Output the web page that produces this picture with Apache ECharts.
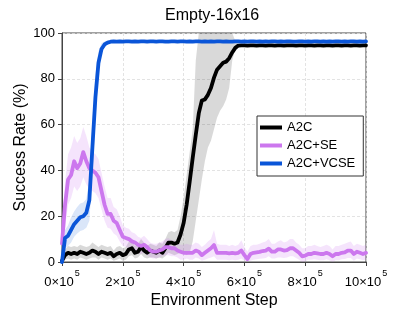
<!DOCTYPE html>
<html>
<head>
<meta charset="utf-8">
<script src="https://cdn.jsdelivr.net/npm/echarts@6/dist/echarts.min.js"></script>
<style>
html,body{margin:0;padding:0;background:#fff;}
#c{width:399px;height:319px;}
</style>
</head>
<body>
<div id="c"></div>
<script>
// Environment steps in units of 1e4
const steps = [0,1,2,3,4,5,6,7,8,9,10,11,12,13,14,15,16,17,18,19,20,21,22,23,24,25,26,27,28,29,30,31,32,33,34,35,36,37,38,39,40,41,42,43,44,45,46,47,48,49,50,51,52,53,54,55,56,57,58,59,60,61,62,63,64,65,66,67,68,69,70,71,72,73,74,75,76,77,78,79,80,81,82,83,84,85,86,87,88,89,90,91,92,93,94,95,96,97,98,99,100];
const xTicks = [0,2,4,6,8,10];
const yTicks = [0,20,40,60,80,100];
const seriesNames = ['A2C','A2C+SE','A2C+VCSE'];

const a2c = [0.5,3,4,3.5,4,3.5,4.5,4,3.5,4,
 5,4.5,3.5,4.5,4,3.5,4,2.5,3.5,4,
 3,3.5,5.5,6,4,4.5,6.5,5,4,5,
 4.5,4,5,4,6,8.5,8.5,8,8.5,12,
 17,25,35,45.5,55.5,65,70.5,71,73,76,
 80.5,84,85.5,87,87.5,89,91.5,93.5,94.5,94.6,
 94.6,94.5,94.6,94.6,94.5,94.6,94.6,94.5,94.6,94.6,
 94.5,94.6,94.6,94.5,94.6,94.6,94.6,94.5,94.6,94.6,
 94.5,94.6,94.6,94.5,94.6,94.6,94.5,94.6,94.6,94.5,
 94.6,94.6,94.5,94.6,94.6,94.5,94.6,94.6,94.5,94.6,
 94.6];
const a2cLow = [0,1,1.5,1,1.5,1,2,1.5,1,1.5,
 2,2,1,2,1.5,1,1.5,0.5,1,1.5,
 0.5,1,2.5,3,1.5,2,3.5,2,1.5,2,
 2,1.5,2,1.5,2.5,4,3.5,3,3.5,4,
 4,3,4,9,18,27,36,44,50,53,
 58,63,66,68,71,76,88,93,94,94.1,
 94.1,94,94.1,94.1,94,94.1,94.1,94,94.1,94.1,
 94,94.1,94.1,94,94.1,94.1,94.1,94,94.1,94.1,
 94,94.1,94.1,94,94.1,94.1,94,94.1,94.1,94,
 94.1,94.1,94,94.1,94.1,94,94.1,94.1,94,94.1,
 94.1];
const a2cHigh = [1.5,5.5,7,6.5,7,6.5,7.5,7,6.5,7,
 8.5,7.5,6.5,7.5,7,6.5,7,5,6.5,7,
 6,6.5,9,9.5,7,8,10,8.5,7,8,
 7.5,7,8.5,8,10,13,13.5,13,14,20,
 28,38,48,58,88,110,110,110,110,110,
 110,110,110,110,108,105,101,96.5,95.2,95.1,
 95.1,95,95.1,95.1,95,95.1,95.1,95,95.1,95.1,
 95,95.1,95.1,95,95.1,95.1,95.1,95,95.1,95.1,
 95,95.1,95.1,95,95.1,95.1,95,95.1,95.1,95,
 95.1,95.1,95,95.1,95.1,95,95.1,95.1,95,95.1,
 95.1];

const se = [8,25,36,38,44,41,43,48,44,41,
 40,39,37,31,25,21,21,18,17,14,
 11,10.5,10,9,8.5,7.5,7,7.5,6.5,5,
 4.5,4.5,5,5.5,6.5,6.5,6,6,5,4.5,
 4,4,4,4,5,4.5,3,4,5,6,
 7.4,4,4,4,4,3.8,4,3.8,4,5,
 3,1.3,3.5,4,4.2,4.4,4.8,5,5.8,4.5,
 4.5,5.5,5.5,5,5.2,6,6,5,4,2.5,
 2.8,3.5,3.5,4,3.8,3.5,3.5,4,3.5,2.5,
 3.5,3.5,4,4.2,5,5,3.5,4.5,4,3.5,
 4];
const seLow = [3,15,25,28,33,31,33,37,34,32,
 31,30,28,23,18,15,14.5,12.5,11.5,9,
 7,6.5,6,5,5,4,3.5,4,3,2,
 1.5,1.5,2,2.5,3,3,2.5,2.5,2,1,
 1,1.5,1,1,2,1.5,0.5,1,1.5,2,
 2.5,1,1,1,1,0.8,1,0.8,1,1.5,
 0.5,0,0.5,1,1.2,1.4,1.5,1.8,2.5,1.5,
 1.5,2,2,1.8,2,2.5,2.5,1.8,1,0,
 0.3,1,1,1.2,1,0.8,0.8,1.2,0.8,0,
 0.8,0.8,1.2,1.3,1.8,1.8,0.5,1.5,1.2,0.8,
 1];
const seHigh = [14,35,47,50,55,52,54,59,55,50,
 48,47,45,39,33,28,28,24,23,20,
 16,15,14.5,13,12.5,11,10.5,11.5,10,8.5,
 8,8,8.5,9,10,10.5,9.5,9.5,8.5,7.5,
 7.5,8,7.5,7.5,8.5,8,6.5,7.5,9,10,
 14,8,7.5,7.5,7.5,7,7.5,7,7.5,9.5,
 6.5,4.5,7,7.5,7.5,8,8.5,9,10,8,
 8,9,9.5,8.5,9,10,10,8.5,7.5,6,
 6,7,7,7.5,7,6.5,7,7.5,7,5.5,
 7,7,7.5,8,8.5,9,7,8,7.5,7,
 7.5];

const vcse = [0,10.5,11.5,14,16.5,18,19.5,20,21.5,27,
 50,72,87,93,95,95.8,96.2,96.3,96.2,96.3,
 96.2,96.3,96.3,96.2,96.3,96.2,96.3,96.3,96.2,96.3,
 96.3,96.2,96.3,96.3,96.2,96.2,96.3,96.3,96.2,96.3,
 96.3,96.2,96.3,96.2,96.3,96.3,96.2,96.3,96.2,96.3,
 96.2,96.3,96.3,96.2,96.3,96.2,96.2,96.3,96.3,96.2,
 96.3,96.2,96.3,96.3,96.2,96.3,96.2,96.3,96.2,96.3,
 96.3,96.2,96.3,96.2,96.3,96.3,96.2,96.2,96.3,96.3,
 96.2,96.3,96.2,96.3,96.3,96.2,96.3,96.2,96.3,96.2,
 96.3,96.3,96.2,96.3,96.2,96.3,96.3,96.2,96.3,96.2,
 96.3];
const vcseLow = [0,6,7,8.5,11,12.5,13.5,14,15,18,
 38,62,82,91,94,95.2,95.7,95.8,95.7,95.8,
 95.7,95.8,95.8,95.7,95.8,95.7,95.8,95.8,95.7,95.8,
 95.8,95.7,95.8,95.8,95.7,95.7,95.8,95.8,95.7,95.8,
 95.8,95.7,95.8,95.7,95.8,95.8,95.7,95.8,95.7,95.8,
 95.7,95.8,95.8,95.7,95.8,95.7,95.7,95.8,95.8,95.7,
 95.8,95.7,95.8,95.8,95.7,95.8,95.7,95.8,95.7,95.8,
 95.8,95.7,95.8,95.7,95.8,95.8,95.7,95.7,95.8,95.8,
 95.7,95.8,95.7,95.8,95.8,95.7,95.8,95.7,95.8,95.7,
 95.8,95.8,95.7,95.8,95.7,95.8,95.8,95.7,95.8,95.7,
 95.8];
const vcseHigh = [0,14,16,19.5,22,24,25.5,26,27.5,36,
 62,82,92,95.5,96.3,96.6,96.7,96.8,96.7,96.8,
 96.7,96.8,96.8,96.7,96.8,96.7,96.8,96.8,96.7,96.8,
 96.8,96.7,96.8,96.8,96.7,96.7,96.8,96.8,96.7,96.8,
 96.8,96.7,96.8,96.7,96.8,96.8,96.7,96.8,96.7,96.8,
 96.7,96.8,96.8,96.7,96.8,96.7,96.7,96.8,96.8,96.7,
 96.8,96.7,96.8,96.8,96.7,96.8,96.7,96.8,96.7,96.8,
 96.8,96.7,96.8,96.7,96.8,96.8,96.7,96.7,96.8,96.8,
 96.7,96.8,96.7,96.8,96.8,96.7,96.8,96.7,96.8,96.7,
 96.8,96.8,96.7,96.8,96.7,96.8,96.8,96.7,96.8,96.7,
 96.8];

const UNIT = 1e4;
const colors = ['#000000', '#cc77ee', '#0a55d8'];
const bandColors = ['rgba(0,0,0,0.15)', 'rgba(204,119,238,0.2)', 'rgba(10,85,216,0.15)'];
const Y_MIN = yTicks[0], Y_MAX = yTicks[yTicks.length-1];

function pairs(arr){ return steps.map((s,i)=>[s*UNIT, arr[i]]); }

function band(lo, hi, color){
  return {
    type:'custom', silent:true, z:1,
    data:[[0, 0]],
    encode:{x:0, y:1},
    renderItem:function(params, api){
      const clampV = v => Math.max(Y_MIN, Math.min(Y_MAX, v));
      const top = steps.map((s,i)=>api.coord([s*UNIT, clampV(hi[i])]));
      const bot = steps.map((s,i)=>api.coord([s*UNIT, clampV(lo[i])])).reverse();
      return {type:'polygon', shape:{points: top.concat(bot)}, style:{fill:color, stroke:null}};
    }
  };
}
function mainLine(name, arr, color){
  return {type:'line', name:name, data:pairs(arr), symbol:'none', z:3,
    lineStyle:{color:color, width:3.8, join:'round', cap:'round'}, itemStyle:{color:color}};
}

const chart = echarts.init(document.getElementById('c'), null, {renderer:'canvas'});
const FONT = 'Liberation Sans, Arial, sans-serif';
chart.setOption({
  animation:false,
  backgroundColor:'#fff',
  textStyle:{fontFamily:FONT},
  title:{text:'Empty-16x16', left:165, top:8, padding:0,
    textStyle:{fontSize:16, fontWeight:'normal', color:'#000', fontFamily:FONT}},
  grid:{left:62, right:33, top:33, bottom:57, show:true, borderColor:'#444', borderWidth:1, backgroundColor:'transparent'},
  legend:{
    data:seriesNames, orient:'vertical', left:257, top:116,
    icon:'rect', itemWidth:22, itemHeight:4, itemGap:5,
    backgroundColor:'#fff', borderColor:'#333', borderWidth:1, borderRadius:0,
    padding:[5,8,6,3],
    textStyle:{fontSize:13, color:'#000', fontFamily:FONT}
  },
  xAxis:{
    type:'value', min:xTicks[0]*1e5, max:xTicks[xTicks.length-1]*1e5, interval:2e5,
    name:'Environment Step', nameLocation:'middle', nameGap:31, nameMoveOverlap:false,
    nameTextStyle:{fontSize:16, color:'#000', fontFamily:FONT},
    axisLine:{show:true, lineStyle:{color:'#444', width:1}},
    axisTick:{show:true, inside:false, length:4, lineStyle:{color:'#444'}},
    axisLabel:{
      margin:7, color:'#000',
      formatter:function(v){ return '{a|' + Math.round(v/1e5) + '×10}{s|5}'; },
      rich:{
        a:{fontSize:13, verticalAlign:'bottom', color:'#000', fontFamily:FONT},
        s:{fontSize:9, verticalAlign:'bottom', padding:[0,0,11,1], color:'#000', fontFamily:FONT}
      }
    },
    splitLine:{show:true, lineStyle:{color:'#dcdcdc', width:0.8, type:[3,2]}}
  },
  yAxis:{
    type:'value', min:Y_MIN, max:Y_MAX, interval:20,
    name:'Success Rate (%)', nameLocation:'middle', nameGap:33, nameRotate:90, nameMoveOverlap:false,
    nameTextStyle:{fontSize:16, color:'#000', fontFamily:FONT},
    axisLine:{show:true, lineStyle:{color:'#444', width:1}},
    axisTick:{show:true, inside:false, length:4, lineStyle:{color:'#444'}},
    axisLabel:{margin:7, fontSize:13, color:'#000', fontFamily:FONT},
    splitLine:{show:true, lineStyle:{color:'#dcdcdc', width:0.8, type:[3,2]}}
  },
  series:[
    band(a2cLow, a2cHigh, bandColors[0]),
    band(seLow, seHigh, bandColors[1]),
    band(vcseLow, vcseHigh, bandColors[2]),
    mainLine(seriesNames[0], a2c, colors[0]),
    mainLine(seriesNames[1], se, colors[1]),
    mainLine(seriesNames[2], vcse, colors[2])
  ]
});
</script>
</body>
</html>
